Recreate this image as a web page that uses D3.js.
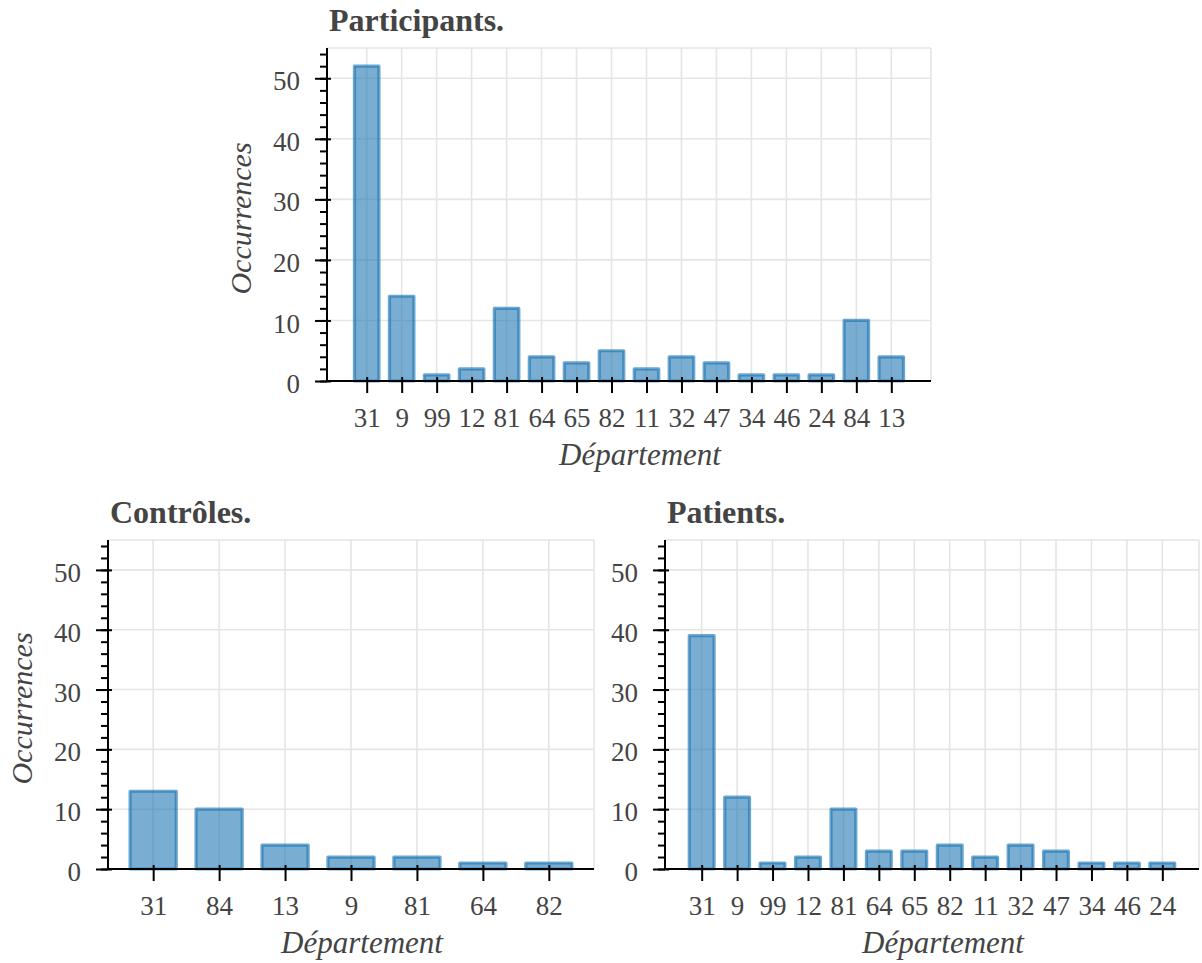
<!DOCTYPE html>
<html>
<head>
<meta charset="utf-8">
<script src="https://cdn.jsdelivr.net/npm/d3@7"></script>
<style>
  body { margin: 0; background: #fff; }
  svg { display: block; }
  text { font-family: "Liberation Serif", "Times New Roman", serif; fill: #444; }
</style>
</head>
<body>
<svg id="chart" width="1202" height="963"></svg>
<script>
// departements, in the order of the original plots
var participantsCats = ["31","9","99","12","81","64","65","82","11","32","47","34","46","24","84","13"];
var participantsVals = [52,14,1,2,12,4,3,5,2,4,3,1,1,1,10,4];

var controlesCats = ["31","84","13","9","81","64","82"];
var controlesVals = [13,10,4,2,2,1,1];

var patientsCats = ["31","9","99","12","81","64","65","82","11","32","47","34","46","24"];
var patientsVals = [39,12,1,2,10,3,3,4,2,4,3,1,1,1];

var yMajor = [0,10,20,30,40,50];
var yMax = 55;
var barWidth = 0.7;

var svg = d3.select("#chart");

function panel(box, title, cats, vals, yLabel) {
  var g = svg.append("g");
  var n = cats.length;
  var pad = barWidth / 2 + 0.05 * (n - 1 + barWidth);

  var x = d3.scaleLinear()
      .domain([-pad, n - 1 + pad])
      .range([box.left, box.right]);
  var y = d3.scaleLinear()
      .domain([0, yMax])
      .range([box.bottom, box.top]);

  // grid
  var grid = g.append("g").attr("stroke", "#e5e5e5").attr("stroke-width", 1.6);
  grid.selectAll("line.h")
    .data(yMajor)
    .enter().append("line")
      .attr("x1", box.left).attr("x2", box.right)
      .attr("y1", function(d) { return y(d); })
      .attr("y2", function(d) { return y(d); });
  grid.selectAll("line.v")
    .data(d3.range(n))
    .enter().append("line")
      .attr("x1", function(d) { return x(d); })
      .attr("x2", function(d) { return x(d); })
      .attr("y1", box.top).attr("y2", box.bottom);
  // light frame top / right
  grid.append("line").attr("x1", box.left).attr("x2", box.right).attr("y1", box.top).attr("y2", box.top);
  grid.append("line").attr("x1", box.right).attr("x2", box.right).attr("y1", box.top).attr("y2", box.bottom);

  // bars
  g.append("g").selectAll("rect")
    .data(vals)
    .enter().append("rect")
      .attr("x", function(d, i) { return x(i - barWidth / 2); })
      .attr("width", x(barWidth) - x(0))
      .attr("y", function(d) { return y(d); })
      .attr("height", function(d) { return y(0) - y(d); })
      .attr("fill", "#1f77b4")
      .attr("fill-opacity", 0.6)
      .attr("stroke", "#1f77b4")
      .attr("stroke-opacity", 0.65)
      .attr("stroke-width", 3.2)
      .attr("stroke-linejoin", "round");

  // y axis, minor then major
  var yMinorAxis = d3.axisLeft(y)
      .tickValues(d3.range(0, yMax + 1, 2))
      .tickSize(7)
      .tickFormat("");
  var ym = g.append("g")
      .attr("transform", "translate(" + box.left + ",0)")
      .call(yMinorAxis);
  ym.select(".domain").remove();
  ym.selectAll(".tick line").attr("stroke", "#000").attr("stroke-width", 2);

  var yAxis = d3.axisLeft(y)
      .tickValues(yMajor)
      .tickSize(12)
      .tickPadding(15);
  var ya = g.append("g")
      .attr("transform", "translate(" + box.left + ",0)")
      .call(yAxis);
  ya.select(".domain").remove();
  ya.selectAll(".tick line").attr("x1", 4).attr("stroke", "#000").attr("stroke-width", 2);
  ya.selectAll(".tick text")
      .attr("dy", "0.43em")
      .style("font-size", "27px")
      .style("font-family", "Liberation Serif, serif")
      .attr("fill", "#444");

  // x axis
  var xAxis = d3.axisBottom(x)
      .tickValues(d3.range(n))
      .tickSize(12)
      .tickFormat(function(i) { return cats[i]; });
  var xa = g.append("g")
      .attr("transform", "translate(0," + box.bottom + ")")
      .call(xAxis);
  xa.select(".domain").remove();
  xa.selectAll(".tick line").attr("y1", -4).attr("stroke", "#000").attr("stroke-width", 2);
  xa.selectAll(".tick text")
      .attr("y", 46).attr("dy", 0)
      .style("font-size", "27px")
      .style("font-family", "Liberation Serif, serif")
      .attr("fill", "#444");

  // spines
  g.append("line")
      .attr("x1", box.left).attr("x2", box.left)
      .attr("y1", box.top).attr("y2", box.bottom + 1)
      .attr("stroke", "#000").attr("stroke-width", 2);
  g.append("line")
      .attr("x1", box.left - 1).attr("x2", box.right)
      .attr("y1", box.bottom).attr("y2", box.bottom)
      .attr("stroke", "#000").attr("stroke-width", 2);

  // texts
  g.append("text")
      .attr("x", box.left + 2)
      .attr("y", box.top - 17)
      .style("font-size", "32px")
      .style("font-weight", "bold")
      .text(title);

  g.append("text")
      .attr("x", (box.left + box.right) / 2 + 11)
      .attr("y", box.bottom + 84)
      .attr("text-anchor", "middle")
      .style("font-size", "31px")
      .style("font-style", "italic")
      .text("Département");

  if (yLabel) {
    g.append("text")
        .attr("transform", "translate(" + (box.left - 76) + "," + ((box.top + box.bottom) / 2 + 4) + ") rotate(-90)")
        .attr("text-anchor", "middle")
        .style("font-size", "30px")
        .style("font-style", "italic")
        .text("Occurrences");
  }
}

panel({left: 327, right: 931, top: 48, bottom: 381}, "Participants.", participantsCats, participantsVals, true);
panel({left: 108, right: 594, top: 540, bottom: 869}, "Contrôles.", controlesCats, controlesVals, true);
panel({left: 665, right: 1199, top: 540, bottom: 869}, "Patients.", patientsCats, patientsVals, false);
</script>
</body>
</html>
